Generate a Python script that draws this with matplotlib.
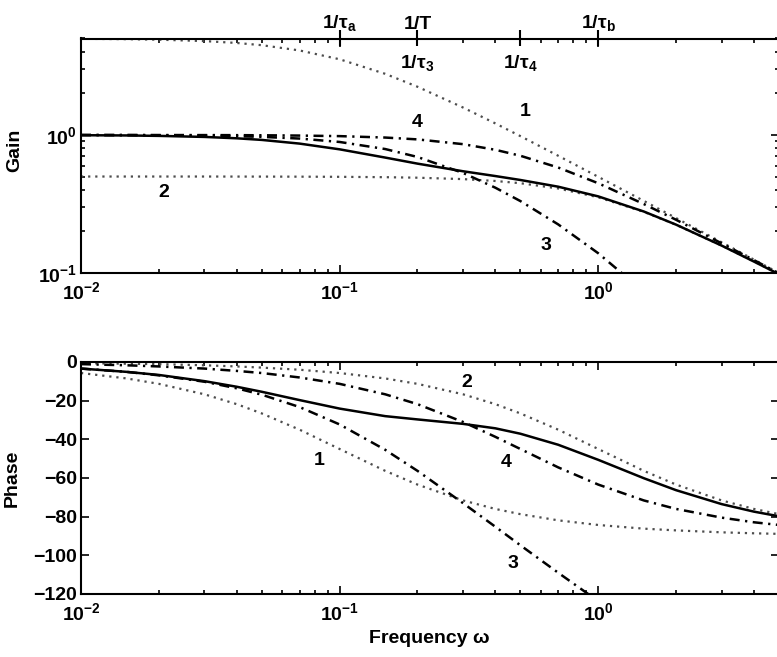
import matplotlib.pyplot as plt
from matplotlib.ticker import LogLocator, NullFormatter

plt.rcParams['font.family'] = ['Liberation Sans', 'DejaVu Sans']
plt.rcParams['font.weight'] = 'bold'
plt.rcParams['axes.labelweight'] = 'bold'
plt.rcParams['font.size'] = 14
plt.rcParams['mathtext.fontset'] = 'custom'
plt.rcParams['mathtext.rm'] = 'Liberation Sans:bold'
plt.rcParams['mathtext.bf'] = 'Liberation Sans:bold'
plt.rcParams['mathtext.it'] = 'Liberation Sans:bold'
plt.rcParams['mathtext.default'] = 'rm'
plt.rcParams['axes.linewidth'] = 1.5

# frequencies (rad/s) at which the curves were read
freq = [0.01, 0.015, 0.02, 0.03, 0.04, 0.05, 0.07, 0.1, 0.15, 0.2,
        0.3, 0.4, 0.5, 0.7, 1.0, 1.5, 2.0, 3.0, 4.0, 5.0]

# gain curves
gain_full = [0.996, 0.992, 0.985, 0.968, 0.946, 0.921, 0.866, 0.787, 0.686, 0.620,
             0.546, 0.504, 0.472, 0.422, 0.359, 0.279, 0.224, 0.158, 0.121, 0.098]
gain_1 = [4.975, 4.945, 4.903, 4.789, 4.642, 4.472, 4.096, 3.536, 2.774, 2.236,
          1.581, 1.213, 0.981, 0.707, 0.4975, 0.333, 0.250, 0.167, 0.125, 0.100]
gain_2 = [0.500, 0.500, 0.500, 0.500, 0.4996, 0.4994, 0.4988, 0.4975, 0.4945, 0.4903,
          0.4789, 0.4642, 0.4472, 0.4096, 0.3536, 0.2774, 0.2236, 0.1581, 0.1213, 0.0981]
gain_3 = [0.999, 0.997, 0.995, 0.989, 0.980, 0.969, 0.942, 0.890, 0.791, 0.693,
          0.531, 0.415, 0.332, 0.225, 0.139, 0.0733, 0.0445, 0.0210, 0.0121, 0.0078]
gain_4 = [1.000, 1.000, 0.999, 0.998, 0.997, 0.995, 0.990, 0.981, 0.958, 0.929,
          0.858, 0.781, 0.707, 0.581, 0.447, 0.316, 0.243, 0.164, 0.124, 0.0995]

# phase curves (degrees)
phase_full = [-3.4, -5.1, -6.7, -9.9, -12.8, -15.4, -19.7, -24.1, -28.0, -29.7,
              -32.0, -34.3, -37.1, -42.8, -50.6, -60.1, -66.3, -73.5, -77.4, -79.8]
phase_1 = [-5.7, -8.5, -11.3, -16.7, -21.8, -26.6, -35.0, -45.0, -56.3, -63.4,
           -71.6, -76.0, -78.7, -81.9, -84.3, -86.2, -87.1, -88.1, -88.6, -88.9]
phase_2 = [-0.6, -0.9, -1.1, -1.7, -2.3, -2.9, -4.0, -5.7, -8.5, -11.3,
           -16.7, -21.8, -26.6, -35.0, -45.0, -56.3, -63.4, -71.6, -76.0, -78.7]
phase_3 = [-3.4, -5.1, -6.9, -10.2, -13.6, -16.9, -23.3, -32.3, -45.4, -56.3,
           -73.0, -85.2, -94.8, -109.0, -123.7, -138.7, -147.7, -157.8, -163.1, -166.4]
phase_4 = [-1.1, -1.7, -2.3, -3.4, -4.6, -5.7, -8.0, -11.3, -16.7, -21.8,
           -31.0, -38.7, -45.0, -54.5, -63.4, -71.6, -76.0, -80.5, -82.9, -84.3]

# break frequencies marked on top of the gain plot
break_freq = [0.1, 0.2, 0.2, 0.5, 1.0]
break_text = [r'1/$\tau_a$', '1/T', r'1/$\tau_3$', r'1/$\tau_4$', r'1/$\tau_b$']
break_above = [True, True, False, False, True]

fig = plt.figure(figsize=(7.77, 6.57), dpi=100)
ax1 = fig.add_axes([81/777, (657-273)/657, 698/777, 234.5/657])
ax2 = fig.add_axes([81/777, (657-594)/657, 698/777, 232/657])

solid = dict(color='black', lw=1.8)
dot = dict(color='0.3', lw=1.6, dashes=(1, 2.2))
dashdot = dict(color='black', lw=1.8, dashes=(4, 2.2, 0.9, 2.2))

ax1.loglog(freq, gain_1, **dot)
ax1.loglog(freq, gain_2, **dot)
ax1.loglog(freq, gain_3, **dashdot)
ax1.loglog(freq, gain_4, **dashdot)
ax1.loglog(freq, gain_full, **solid)
ax1.set_ylim(0.1, 5)

ax2.semilogx(freq, phase_1, **dot)
ax2.semilogx(freq, phase_2, **dot)
ax2.semilogx(freq, phase_3, **dashdot)
ax2.semilogx(freq, phase_4, **dashdot)
ax2.semilogx(freq, phase_full, **solid)
ax2.set_ylim(-120, 0)
ax2.set_yticks(range(-120, 1, 20))

for ax in (ax1, ax2):
    ax.set_xlim(0.01, 5)
    ax.xaxis.set_major_locator(LogLocator(base=10))
    ax.xaxis.set_minor_locator(LogLocator(base=10, subs=range(2, 10)))
    ax.xaxis.set_minor_formatter(NullFormatter())
    ax.tick_params(which='both', direction='in', top=True, right=True, width=1.2)
    ax.tick_params(which='major', length=5.5, pad=6)
    ax.tick_params(which='minor', length=3)
    ax.tick_params(axis='y', pad=3)
ax1.yaxis.set_minor_formatter(NullFormatter())

# curve numbers
ax1.text(0.52, 1.47, '1', ha='center', va='center')
ax1.text(0.2, 1.24, '4', ha='center', va='center')
ax1.text(0.0208, 0.386, '2', ha='center', va='center')
ax1.text(0.63, 0.159, '3', ha='center', va='center')
ax2.text(0.31, -10.5, '2', ha='center', va='center')
ax2.text(0.083, -51, '1', ha='center', va='center')
ax2.text(0.44, -52, '4', ha='center', va='center')
ax2.text(0.47, -104, '3', ha='center', va='center')

# break-frequency marks
sec = ax1.secondary_xaxis('top')
sec.set_xticks(sorted(set(break_freq)))
sec.set_xticks([], minor=True)
sec.tick_params(which='major', direction='inout', length=12, width=1.5, labeltop=False)
sec.spines['top'].set_visible(False)
for f, t, up in zip(break_freq, break_text, break_above):
    if up:
        ax1.text(f, 1.022, t, transform=ax1.get_xaxis_transform(), ha='center', va='bottom')
    else:
        ax1.text(f, 0.94, t, transform=ax1.get_xaxis_transform(), ha='center', va='top')

ax1.set_ylabel('Gain')
ax1.yaxis.set_label_coords(-0.083, 0.525)
ax2.set_ylabel('Phase')
ax2.yaxis.set_label_coords(-0.087, 0.5)
ax2.set_xlabel('Frequency ω')
ax2.xaxis.set_label_coords(0.4986, -0.155)

fig.savefig('out.png', dpi=100)
